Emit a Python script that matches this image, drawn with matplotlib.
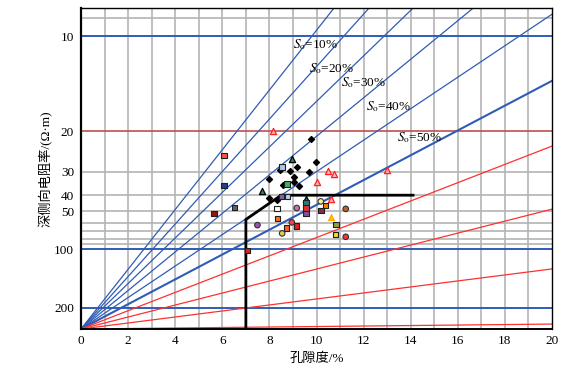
"""
Hingle-type crossplot: deep laterolog resistivity vs porosity, with So lines.
"""

import numpy as np
import matplotlib
matplotlib.use("Agg")
import matplotlib.pyplot as plt
import matplotlib.ticker as ticker

plt.rcParams.update({
    "font.family":      ["Liberation Serif", "Noto Sans CJK SC"],
    "font.size":        9,
    "mathtext.fontset": "stix",
})

# resistivity axis: y = R ** (-A), R = inf sits on the bottom edge
A     = 0.565
R_INF = 1e12
R_TOP = 8.5

# ── data ──────────────────────────────────────────────────────────────────────
X_TICKS = [0, 2, 4, 6, 8, 10, 12, 14, 16, 18, 20]
# the "200" line of the source sits where its own scale gives ~1060 ohm.m
Y_TICKS       = [10, 20, 30, 40, 50, 100, 1060]
Y_TICK_LABELS = ["10", "20", "30", "40", "50", "100", "200"]
GRID_GRAY = [9, 30, 40, 50, 60, 70, 80, 90]
GRID_BLUE = [10, 100, 1060]
GRID_RED  = [20]

# radial lines from the origin, given by their resistivity at phi = 20 %
BLUE_R20  = [2.83, 3.56, 4.58, 6.15, 8.80]
BOLD_R20  = [13.4]
RED_R20   = [23.0, 48.6, 165.0, 13700.0]

SO_LABELS = ["10%", "20%", "30%", "40%", "50%"]
SO_PHI    = [9.0, 9.68, 11.04, 12.1, 13.42]
SO_R      = [10.5, 12.3, 13.6, 16.3, 21.3]

# cut-off polyline (porosity, resistivity)
CUT_PHI = [7.0, 7.0, 8.5, 14.1]
CUT_R   = [R_INF, 57.0, 40.0, 40.0]

# samples
DIA_PHI = [9.77, 8.45, 9.19, 8.89, 9.99, 9.70, 9.04, 8.00, 9.06, 8.58, 9.24, 8.00, 8.34]
DIA_R   = [21.5, 29.5, 28.5, 29.9, 27.0, 30.2, 31.8, 32.6, 34.0, 35.3, 35.5, 41.6, 42.7]

RTRI_PHI = [8.14, 10.49, 10.74, 10.0, 12.98, 10.6]
RTRI_R   = [20.0, 29.9, 30.8, 33.8, 29.5, 42.1]

TTRI_PHI = [8.96, 7.70, 9.55]
TTRI_R   = [26.1, 37.9, 42.0]

YTRI_PHI = [10.6]
YTRI_R   = [54.6]

SQ_PHI   = [6.07, 8.53, 8.75, 6.07, 8.76, 8.52, 9.55, 6.50, 5.65, 8.32, 9.55,
            10.39, 10.19, 9.55, 8.34, 9.16, 10.83, 8.72, 10.80, 7.08]
SQ_R     = [25.3, 28.5, 34.7, 35.3, 40.6, 40.9, 44.5, 47.4, 51.8, 48.4, 47.8,
            46.3, 49.3, 51.8, 56.4, 63.6, 61.8, 65.9, 74.4, 103.4]
SQ_FACE  = ["#ff5050", "#a8c8f0", "#40b060", "#1f3f8f", "#b0d0f0", "#9060b0",
            "#208080", "#606070", "#a01010", "#ffffff", "#e03030",
            "#ff8000", "#803040", "#8050a0", "#ff7010", "#e02020", "#90a040",
            "#ff6020", "#f0e020", "#e02020"]

CIR_PHI  = [10.18, 9.16, 11.24, 8.95, 7.49, 8.54, 11.24]
CIR_R    = [43.5, 47.8, 48.4, 59.8, 62.6, 72.5, 77.3]
CIR_FACE = ["#fff0a0", "#d070b0", "#c06030", "#ff4040", "#a050b0", "#e0d040", "#ff3030"]

BLUE = "#2f5cb4"
RED  = "#ff3030"


def fwd(r):
    with np.errstate(divide="ignore", invalid="ignore"):
        return np.power(r, -A)


def inv(y):
    with np.errstate(divide="ignore", invalid="ignore"):
        return np.power(y, -1.0 / A)


fig = plt.figure(figsize=(5.67, 3.69), dpi=100)
ax = fig.add_axes([0.1429, 0.1084, 0.8307, 0.8699])
ax.set_yscale("function", functions=(fwd, inv))
ax.set_xlim(0, 20)
ax.set_ylim(R_TOP, R_INF)

# grid
for v in range(1, 20):
    ax.axvline(v, color="#b4b4b4", lw=1.2, zorder=1)
for r in GRID_GRAY:
    ax.axhline(r, color="#b4b4b4", lw=1.2, zorder=1)
for r in GRID_BLUE:
    ax.axhline(r, color=BLUE, lw=1.4, zorder=2)
for r in GRID_RED:
    ax.axhline(r, color="#c0504d", lw=1.2, zorder=2)

# radial lines
for r in BLUE_R20:
    ax.plot([0, 20], [R_INF, r], color=BLUE, lw=0.9, zorder=3)
for r in BOLD_R20:
    ax.plot([0, 20], [R_INF, r], color=BLUE, lw=1.5, zorder=3)
for r in RED_R20:
    ax.plot([0, 20], [R_INF, r], color=RED, lw=0.9, zorder=3)

for lab, p, r in zip(SO_LABELS, SO_PHI, SO_R):
    ax.text(p, r, r"$S_{\rm o}$=" + lab, fontsize=9.5, ha="left", va="center",
            zorder=6)

ax.plot(CUT_PHI, CUT_R, color="black", lw=2, zorder=4, solid_joinstyle="miter")

# samples
ax.scatter(DIA_PHI, DIA_R, marker="D", s=9, color="black", zorder=5)
ax.scatter(RTRI_PHI, RTRI_R, marker="^", s=20, facecolor="#ffb0b0",
           edgecolor="#ff2020", linewidth=0.9, zorder=5)
ax.scatter(TTRI_PHI, TTRI_R, marker="^", s=20, facecolor="#208080",
           edgecolor="black", linewidth=0.9, zorder=5)
ax.scatter(YTRI_PHI, YTRI_R, marker="^", s=20, facecolor="#ffc000",
           edgecolor="#ffa000", linewidth=0.6, zorder=5)
ax.scatter(SQ_PHI, SQ_R, marker="s", s=14, c=SQ_FACE, edgecolor="#202020",
           linewidth=0.8, zorder=5)
ax.scatter(CIR_PHI, CIR_R, marker="o", s=16, c=CIR_FACE, edgecolor="#303030",
           linewidth=0.8, zorder=5)

ax.set_xticks(X_TICKS)
ax.yaxis.set_major_locator(ticker.FixedLocator(Y_TICKS))
ax.yaxis.set_major_formatter(ticker.FixedFormatter(Y_TICK_LABELS))
ax.yaxis.set_minor_locator(ticker.NullLocator())
ax.tick_params(length=0, labelsize=9.5)
ax.tick_params(axis="y", pad=5)
ax.tick_params(axis="x", pad=4)

for s in ax.spines.values():
    s.set_color("black")
    s.set_linewidth(1.0)
    s.set_zorder(7)
ax.spines["left"].set_linewidth(1.6)
ax.spines["bottom"].set_linewidth(1.4)

ax.set_xlabel("孔隙度/%", fontsize=9.5, labelpad=4)
ax.set_ylabel("深侧向电阻率/(Ω·m)", fontsize=9.5, labelpad=1)

fig.savefig("out.png", dpi=100)
